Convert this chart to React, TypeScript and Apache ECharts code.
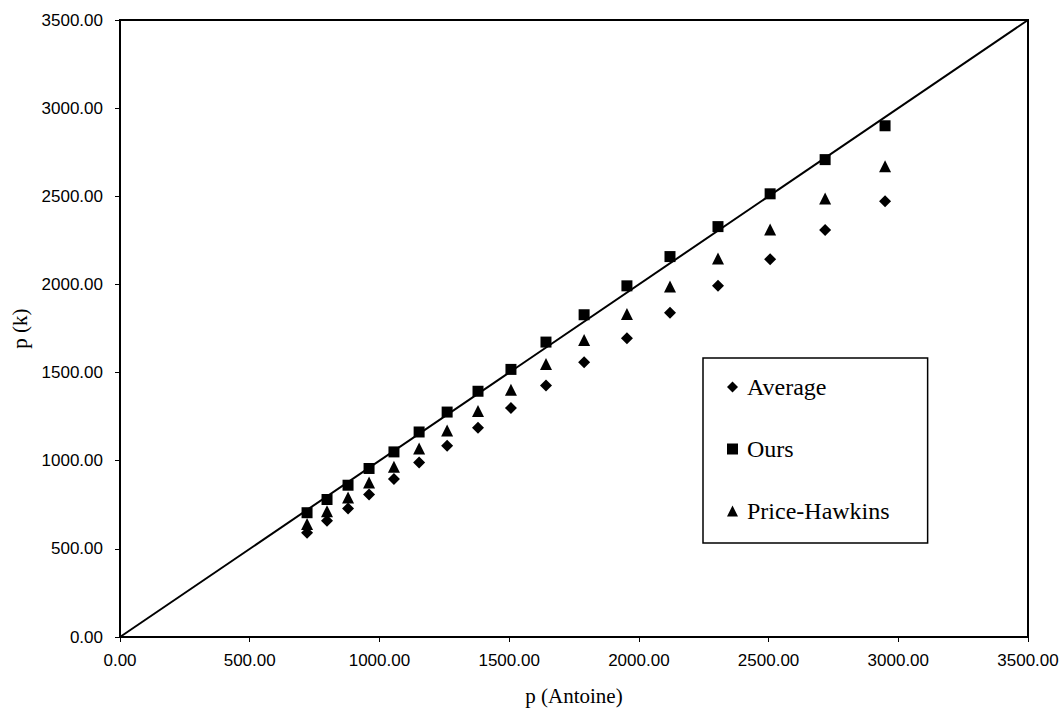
import React, { useEffect, useRef } from "react";
import * as echarts from "echarts";

const xValues = [721, 798, 879, 960, 1056, 1153, 1261, 1380, 1507, 1642, 1789, 1954, 2120, 2305, 2506, 2718, 2949];
const averageValues = [592, 660, 729, 809, 896, 990, 1085, 1187, 1299, 1426, 1559, 1694, 1839, 1992, 2143, 2309, 2472];
const oursValues = [705, 780, 861, 956, 1050, 1163, 1276, 1394, 1518, 1673, 1828, 1992, 2158, 2328, 2514, 2708, 2900];
const priceHawkinsValues = [641, 714, 792, 876, 966, 1069, 1172, 1282, 1402, 1549, 1685, 1832, 1988, 2147, 2312, 2488, 2670];
const diagonal = [[0, 0], [3500, 3500]];
const legendNames = ["Average", "Ours", "Price-Hawkins"];

const pair = (ys: number[]) => xValues.map((x, i) => [x, ys[i]]);

export default function App() {
  const ref = useRef<HTMLDivElement>(null);
  useEffect(() => {
    if (!ref.current) return;
    const chart = echarts.init(ref.current, null, { renderer: "svg" });
    const sans = "Liberation Sans";
    const serif = "Liberation Serif";
    const axisCommon = {
      type: "value" as const,
      min: 0,
      max: 3500,
      interval: 500,
      nameLocation: "middle" as const,
      nameTextStyle: { fontFamily: serif, fontSize: 21, color: "#000" },
      axisLine: { show: true, lineStyle: { color: "#000", width: 2 } },
      axisTick: { show: true, inside: false, length: 5, lineStyle: { color: "#000", width: 1 } },
      splitLine: { show: false },
      axisLabel: {
        fontFamily: sans,
        fontSize: 17,
        color: "#000",
        formatter: (v: number) => v.toFixed(2),
      },
    };
    const mark = { color: "#000", opacity: 1 };
    chart.setOption({
      animation: false,
      backgroundColor: "#fff",
      grid: {
        left: 120,
        right: 34,
        top: 20,
        bottom: 72,
        show: true,
        borderColor: "#000",
        borderWidth: 2,
      },
      legend: {
        data: legendNames,
        orient: "vertical",
        left: 703,
        top: 358,
        padding: [17, 38, 20, 24],
        itemWidth: 11,
        itemHeight: 11,
        itemGap: 38,
        borderColor: "#000",
        borderWidth: 1.5,
        backgroundColor: "#fff",
        textStyle: { fontFamily: serif, fontSize: 24, color: "#000", lineHeight: 24, padding: [0, 0, 0, 4] },
      },
      xAxis: {
        ...axisCommon,
        name: "p (Antoine)",
        nameGap: 48,
        axisLabel: { ...axisCommon.axisLabel, margin: 15 },
      },
      yAxis: {
        ...axisCommon,
        name: "p (k)",
        nameGap: 86,
        axisLabel: { ...axisCommon.axisLabel, margin: 17 },
      },
      series: [
        {
          type: "line",
          data: diagonal,
          symbol: "none",
          silent: true,
          lineStyle: { color: "#000", width: 2 },
          z: 1,
        },
        {
          name: "Average",
          type: "scatter",
          data: pair(averageValues),
          symbol: "diamond",
          symbolSize: 12,
          itemStyle: mark,
        },
        {
          name: "Ours",
          type: "scatter",
          data: pair(oursValues),
          symbol: "rect",
          symbolSize: 11,
          itemStyle: mark,
        },
        {
          name: "Price-Hawkins",
          type: "scatter",
          data: pair(priceHawkinsValues),
          symbol: "triangle",
          symbolSize: 12,
          itemStyle: mark,
        },
      ],
    });
    return () => chart.dispose();
  }, []);
  return (
    <div
      ref={ref}
      style={{ position: "fixed", left: 0, top: 0, width: 1062, height: 711, background: "#fff" }}
    />
  );
}
